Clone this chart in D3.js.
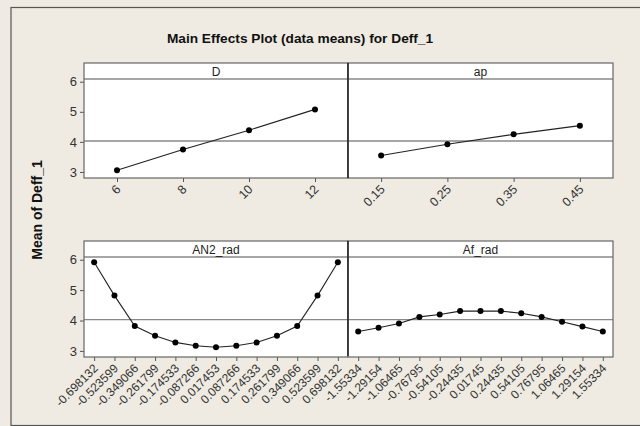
<!DOCTYPE html>
<html>
<head>
<meta charset="utf-8">
<script src="https://cdn.jsdelivr.net/npm/d3@7"></script>
<style>
  body { margin: 0; background: #efebe2; }
  text { font-family: "Liberation Sans", Arial, sans-serif; }
</style>
</head>
<body>
<div id="chart"></div>
<script>
// factor levels and means
var d_levels = ["6", "8", "10", "12"];
var d_means = [3.06, 3.75, 4.39, 5.08];

var ap_levels = ["0.15", "0.25", "0.35", "0.45"];
var ap_means = [3.55, 3.92, 4.25, 4.54];

var an2_levels = ["-0.698132", "-0.523599", "-0.349066", "-0.261799", "-0.174533", "-0.087266",
                  "0.017453", "0.087266", "0.174533", "0.261799", "0.349066", "0.523599", "0.698132"];
var an2_means = [5.92, 4.82, 3.82, 3.50, 3.28, 3.17, 3.12, 3.17, 3.28, 3.50, 3.82, 4.82, 5.92];

var af_levels = ["-1.55334", "-1.29154", "-1.06465", "-0.76795", "-0.54105", "-0.24435",
                 "0.01745", "0.24435", "0.54105", "0.76795", "1.06465", "1.29154", "1.55334"];
var af_means = [3.64, 3.76, 3.90, 4.12, 4.20, 4.31, 4.31, 4.31, 4.24, 4.12, 3.96, 3.80, 3.64];

var y_ticks = [3, 4, 5, 6];
var grand_mean = 4.03;

var w = 640, h = 426;
var left = 84, mid = 348, right = 613;
var strip_h = 16;

var panels = [
  {name: "D", levels: d_levels, means: d_means, x0: left, x1: mid, top: 63, bottom: 178, fs: 12.5, yaxis: true},
  {name: "ap", levels: ap_levels, means: ap_means, x0: mid, x1: right, top: 63, bottom: 178, fs: 12.5, yaxis: false},
  {name: "AN2_rad", levels: an2_levels, means: an2_means, x0: left, x1: mid, top: 241, bottom: 357, fs: 12, yaxis: true},
  {name: "Af_rad", levels: af_levels, means: af_means, x0: mid, x1: right, top: 241, bottom: 357, fs: 12, yaxis: false}
];

var svg = d3.select("#chart").append("svg")
  .attr("width", w)
  .attr("height", h);

// outer frame
svg.append("rect")
  .attr("x", 11).attr("y", 7.5)
  .attr("width", w + 10).attr("height", h - 8)
  .style("fill", "#efebe2")
  .style("stroke", "#555")
  .style("stroke-width", 1.2);

svg.append("text")
  .attr("x", 300).attr("y", 43)
  .attr("text-anchor", "middle")
  .style("font-size", "13.7px")
  .style("font-weight", "bold")
  .style("fill", "#111")
  .text("Main Effects Plot (data means) for Deff_1");

svg.append("text")
  .attr("transform", "translate(42,210) rotate(-90)")
  .attr("text-anchor", "middle")
  .style("font-size", "14px")
  .style("font-weight", "bold")
  .style("fill", "#111")
  .text("Mean of Deff_1");

panels.forEach(function(p) {
  var g = svg.append("g");
  var data_top = p.top + strip_h;

  var x = d3.scalePoint()
    .domain(p.levels)
    .range([p.x0, p.x1])
    .padding(0.5);

  var y = d3.scaleLinear()
    .domain([2.8, 6.09])
    .range([p.bottom, data_top]);

  // panel background
  g.append("rect")
    .attr("x", p.x0).attr("y", p.top)
    .attr("width", p.x1 - p.x0).attr("height", p.bottom - p.top)
    .style("fill", "white");

  // reference line at grand mean
  g.append("line")
    .attr("x1", p.x0).attr("x2", p.x1)
    .attr("y1", y(grand_mean)).attr("y2", y(grand_mean))
    .style("stroke", "#888")
    .style("stroke-width", 1.3);

  // strip
  g.append("line")
    .attr("x1", p.x0).attr("x2", p.x1)
    .attr("y1", data_top).attr("y2", data_top)
    .style("stroke", "#888")
    .style("stroke-width", 1.3);
  g.append("text")
    .attr("x", (p.x0 + p.x1) / 2).attr("y", p.top + 12.5)
    .attr("text-anchor", "middle")
    .style("font-size", "12px")
    .style("fill", "#222")
    .text(p.name);

  // x axis
  var xa = g.append("g")
    .attr("transform", "translate(0," + p.bottom + ")")
    .call(d3.axisBottom(x).tickSize(4).tickSizeOuter(0));
  xa.select(".domain").remove();
  xa.selectAll("line").style("stroke", "#555");
  xa.selectAll("text")
    .attr("text-anchor", "end")
    .attr("dx", 0).attr("dy", 0)
    .attr("y", 0)
    .attr("transform", "translate(4,12) rotate(-45)")
    .style("font-size", p.fs + "px")
    .style("fill", "#333");

  if (p.yaxis) {
    var ya = g.append("g")
      .attr("transform", "translate(" + p.x0 + ",0)")
      .call(d3.axisLeft(y).tickValues(y_ticks).tickSize(4).tickFormat(d3.format("d")));
    ya.select(".domain").remove();
    ya.selectAll("line").style("stroke", "#555");
    ya.selectAll("text")
      .style("font-size", "13px")
      .style("fill", "#333");
  }

  // mean line and points
  var pts = p.levels.map(function(l, i) { return {level: l, mean: p.means[i]}; });
  var line = d3.line()
    .x(function(d) { return x(d.level); })
    .y(function(d) { return y(d.mean); });

  g.append("path")
    .datum(pts)
    .attr("d", line)
    .style("fill", "none")
    .style("stroke", "#222")
    .style("stroke-width", 1.1);

  g.selectAll(".pt")
    .data(pts)
    .enter().append("circle")
    .attr("cx", function(d) { return x(d.level); })
    .attr("cy", function(d) { return y(d.mean); })
    .attr("r", 3)
    .style("fill", "black");

  // panel border
  g.append("rect")
    .attr("x", p.x0).attr("y", p.top)
    .attr("width", p.x1 - p.x0).attr("height", p.bottom - p.top)
    .style("fill", "none")
    .style("stroke", "#666")
    .style("stroke-width", 1.2);
});

// dark divider between columns
[63, 241].forEach(function(t) {
  svg.append("line")
    .attr("x1", mid).attr("x2", mid)
    .attr("y1", t).attr("y2", t + 115)
    .style("stroke", "#111")
    .style("stroke-width", 1.3);
});
</script>
</body>
</html>
